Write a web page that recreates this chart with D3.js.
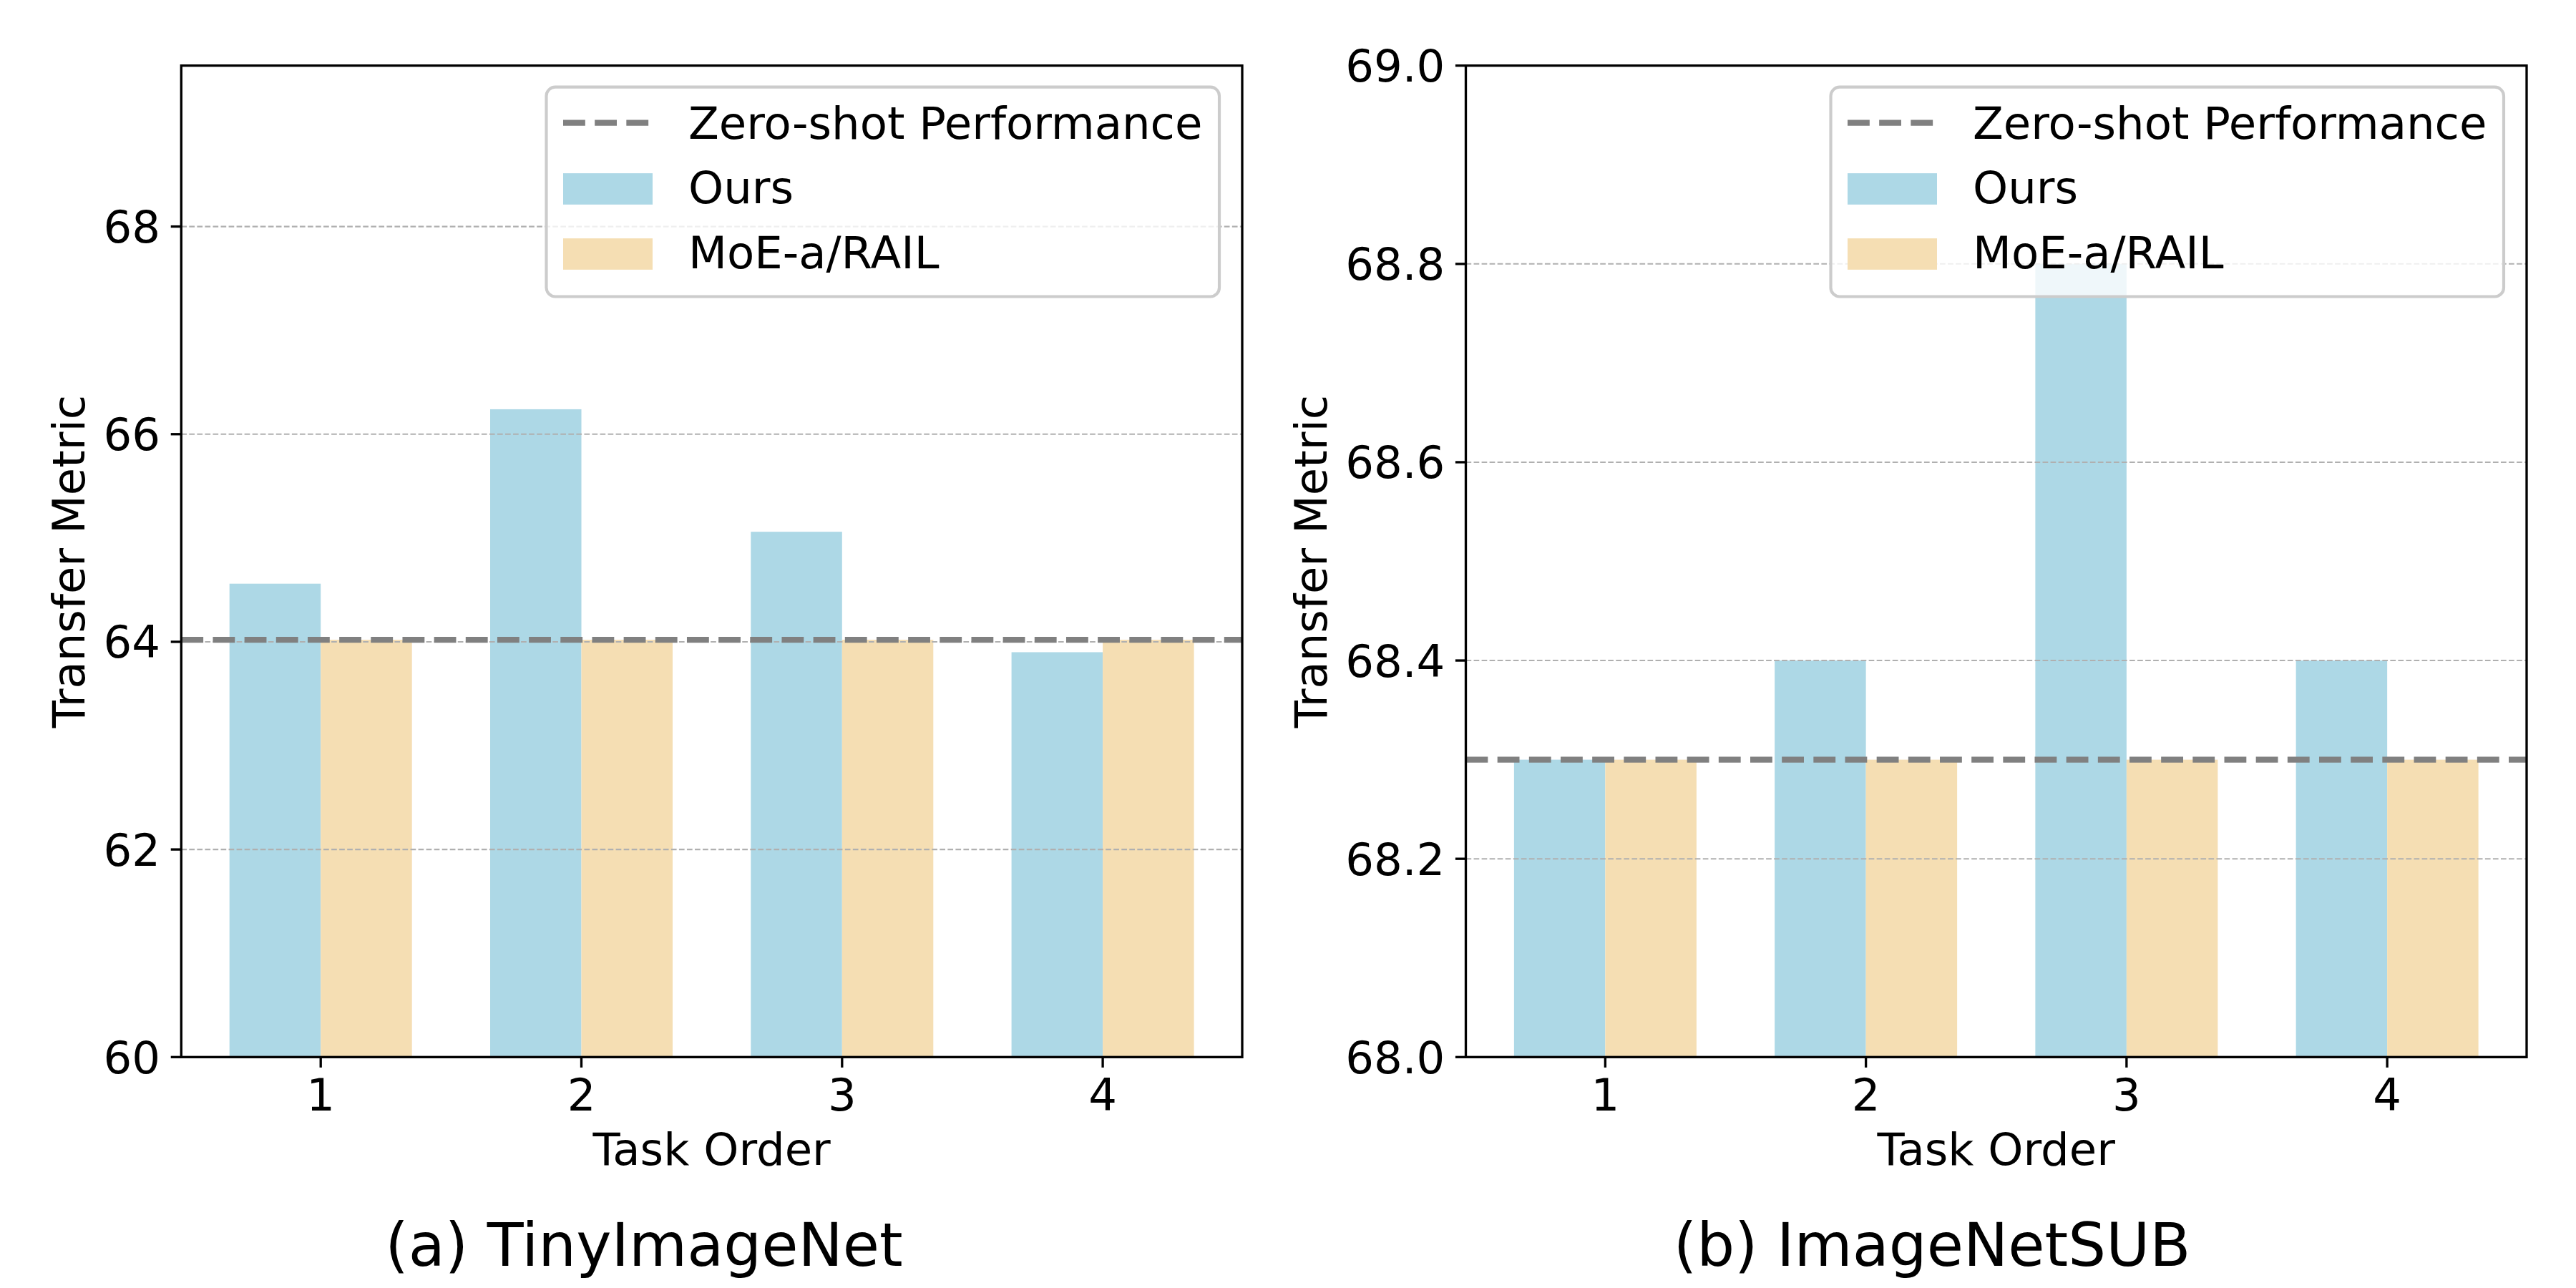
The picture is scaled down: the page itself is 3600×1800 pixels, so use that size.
<!DOCTYPE html>
<html>
<head>
<meta charset="utf-8">
<script src="https://cdn.jsdelivr.net/npm/d3@7/dist/d3.min.js"></script>
<style>
  html, body { margin: 0; padding: 0; background: #fff; }
  svg { display: block; }
  text { font-family: "DejaVu Sans", sans-serif; fill: #000; }
</style>
</head>
<body>
<svg id="chart" width="3600" height="1800"></svg>
<script>
// ---------------- data ----------------
const categories = [1, 2, 3, 4];
const seriesNames = ["Zero-shot Performance", "Ours", "MoE-a/RAIL"];
const panelTitles = ["(a) TinyImageNet", "(b) ImageNetSUB"];
const xLabel = "Task Order";
const yLabel = "Transfer Metric";

const tinyOurs = [64.56, 66.24, 65.06, 63.90];
const tinyMoE = [64.02, 64.02, 64.02, 64.02];
const tinyZeroShot = 64.02;
const tinyYDomain = [60, 69.55];
const tinyYTicks = [60, 62, 64, 66, 68];

const subOurs = [68.30, 68.40, 68.80, 68.40];
const subMoE = [68.30, 68.30, 68.30, 68.30];
const subZeroShot = 68.30;
const subYDomain = [68.0, 69.0];
const subYTicks = [68.0, 68.2, 68.4, 68.6, 68.8, 69.0];

// ---------------- style ----------------
const colors = { zero: "#808080", ours: "#ADD8E6", moe: "#F5DEB3" };
const PT = 300 / 72;
const FS = 15 * PT;        // tick / label / legend font size
const TITLE_FS = 20 * PT;
const SPINE_W = 0.8 * PT;
const TICK_LEN = 3.5 * PT;
const TICK_PAD = 3.5 * PT;
const BAR_W = 0.35;

const panels = [
  { left: 253.3, right: 1736, top: 91.7, bottom: 1477.3, ours: tinyOurs, moe: tinyMoE,
    zero: tinyZeroShot, yDomain: tinyYDomain, yTicks: tinyYTicks, fmt: d3.format("d"),
    title: panelTitles[0], titleX: 900 },
  { left: 2048.5, right: 3531, top: 91.7, bottom: 1477.3, ours: subOurs, moe: subMoE,
    zero: subZeroShot, yDomain: subYDomain, yTicks: subYTicks, fmt: d3.format(".1f"),
    title: panelTitles[1], titleX: 2700 }
];

const svg = d3.select("#chart");

panels.forEach(p => {
  const g = svg.append("g");
  const c0 = d3.min(categories), c1 = d3.max(categories);
  const margin = 0.05 * (c1 - c0 + 2 * BAR_W);
  const x = d3.scaleLinear()
    .domain([c0 - BAR_W - margin, c1 + BAR_W + margin])
    .range([p.left, p.right]);
  const y = d3.scaleLinear().domain(p.yDomain).range([p.bottom, p.top]);

  // bars
  g.selectAll("rect.ours").data(categories).enter().append("rect")
    .attr("x", (c) => x(c - BAR_W))
    .attr("width", x(BAR_W) - x(0))
    .attr("y", (c, i) => y(p.ours[i]))
    .attr("height", (c, i) => y(p.yDomain[0]) - y(p.ours[i]))
    .attr("fill", colors.ours);
  g.selectAll("rect.moe").data(categories).enter().append("rect")
    .attr("x", (c) => x(c))
    .attr("width", x(BAR_W) - x(0))
    .attr("y", (c, i) => y(p.moe[i]))
    .attr("height", (c, i) => y(p.yDomain[0]) - y(p.moe[i]))
    .attr("fill", colors.moe);

  // horizontal grid
  g.selectAll("line.grid").data(p.yTicks).enter().append("line")
    .attr("x1", p.left).attr("x2", p.right)
    .attr("y1", d => y(d)).attr("y2", d => y(d))
    .attr("stroke", "#b0b0b0").attr("stroke-width", 0.5 * PT)
    .attr("stroke-dasharray", `${3.7 * 0.5 * PT},${1.6 * 0.5 * PT}`);

  // zero-shot line
  g.append("line")
    .attr("x1", p.left).attr("x2", p.right)
    .attr("y1", y(p.zero)).attr("y2", y(p.zero))
    .attr("stroke", colors.zero).attr("stroke-width", 2 * PT)
    .attr("stroke-dasharray", `${3.7 * 2 * PT},${1.6 * 2 * PT}`);

  // spines
  g.append("rect")
    .attr("x", p.left).attr("y", p.top)
    .attr("width", p.right - p.left).attr("height", p.bottom - p.top)
    .attr("fill", "none").attr("stroke", "#000").attr("stroke-width", SPINE_W);

  // y ticks
  const yt = g.selectAll("g.yt").data(p.yTicks).enter().append("g")
    .attr("transform", d => `translate(0,${y(d)})`);
  yt.append("line").attr("x1", p.left - TICK_LEN).attr("x2", p.left)
    .attr("stroke", "#000").attr("stroke-width", SPINE_W);
  const ytText = yt.append("text")
    .attr("x", p.left - TICK_LEN - TICK_PAD)
    .attr("dy", "0.36em")
    .attr("text-anchor", "end")
    .attr("font-size", FS)
    .text(d => p.fmt(d));

  // x ticks
  const xt = g.selectAll("g.xt").data(categories).enter().append("g")
    .attr("transform", d => `translate(${x(d)},0)`);
  xt.append("line").attr("y1", p.bottom).attr("y2", p.bottom + TICK_LEN)
    .attr("stroke", "#000").attr("stroke-width", SPINE_W);
  xt.append("text")
    .attr("y", p.bottom + TICK_LEN + TICK_PAD + 0.729 * FS)
    .attr("text-anchor", "middle")
    .attr("font-size", FS)
    .text(d => d);

  // axis labels
  g.append("text")
    .attr("x", (p.left + p.right) / 2).attr("y", 1628)
    .attr("text-anchor", "middle").attr("font-size", FS)
    .text(xLabel);

  let maxW = 0;
  ytText.each(function () { maxW = Math.max(maxW, this.getComputedTextLength()); });
  const labelX = p.left - TICK_LEN - TICK_PAD - maxW - 26.5;
  g.append("text")
    .attr("transform", `translate(${labelX},${(p.top + p.bottom) / 2}) rotate(-90)`)
    .attr("text-anchor", "middle").attr("font-size", FS)
    .text(yLabel);

  // legend
  const lg = g.append("g").attr("transform", `translate(${p.right - 32},${p.top + 30})`);
  const LW = 940.5, LH = 292.8;
  lg.append("rect")
    .attr("x", -LW).attr("y", 0).attr("width", LW).attr("height", LH)
    .attr("rx", 0.2 * FS).attr("ry", 0.2 * FS)
    .attr("fill", "#fff").attr("fill-opacity", 0.8)
    .attr("stroke", "#cccccc").attr("stroke-width", 1 * PT);
  const hx0 = -LW + 23.5, hLen = 2 * FS, tx = hx0 + hLen + 0.8 * FS;
  const rowBase = [72.3, 162.3, 253.3];
  // zero-shot handle
  lg.append("line")
    .attr("x1", hx0).attr("x2", hx0 + hLen)
    .attr("y1", rowBase[0] - 22.3).attr("y2", rowBase[0] - 22.3)
    .attr("stroke", colors.zero).attr("stroke-width", 2 * PT)
    .attr("stroke-dasharray", `${3.7 * 2 * PT},${1.6 * 2 * PT}`);
  [colors.ours, colors.moe].forEach((c, i) => {
    lg.append("rect")
      .attr("x", hx0).attr("width", hLen)
      .attr("y", rowBase[i + 1] - 20 - 0.35 * FS).attr("height", 0.7 * FS)
      .attr("fill", c);
  });
  seriesNames.forEach((s, i) => {
    lg.append("text").attr("x", tx).attr("y", rowBase[i])
      .attr("font-size", FS).text(s);
  });

  // panel title
  svg.append("text")
    .attr("x", p.titleX).attr("y", 1769)
    .attr("text-anchor", "middle").attr("font-size", TITLE_FS)
    .text(p.title);
});
</script>
</body>
</html>
